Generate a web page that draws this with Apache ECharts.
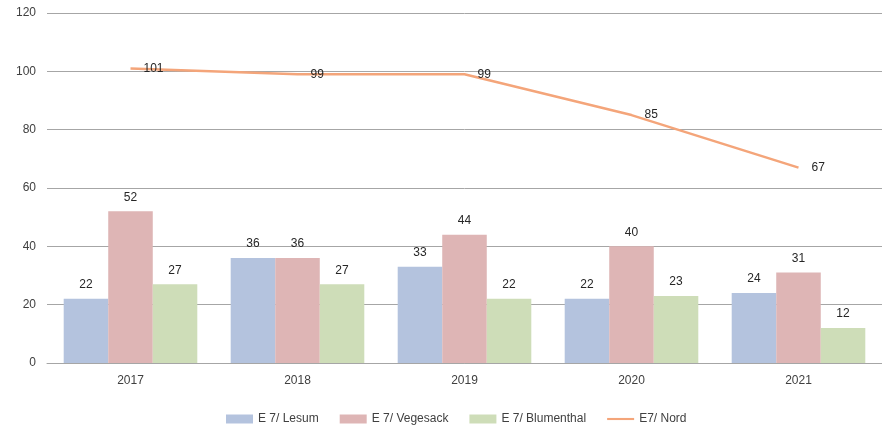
<!DOCTYPE html>
<html><head><meta charset="utf-8">
<script src="https://cdn.jsdelivr.net/npm/echarts@6/dist/echarts.min.js"></script>
<style>html,body{margin:0;padding:0;background:#fff}#c{width:882px;height:427px}</style>
</head><body><div id="c"></div>
<script>
const categories = ['2017','2018','2019','2020','2021'];
const lesum = [22,36,33,22,24];
const vegesack = [52,36,44,40,31];
const blumenthal = [27,27,22,23,12];
const nord = [101,99,99,85,67];
const seriesNames = ['E 7/ Lesum','E 7/ Vegesack','E 7/ Blumenthal','E7/ Nord'];

const font = 'Liberation Sans, Arial, sans-serif';
const lbl = {show:true, position:'top', color:'#262626', fontFamily:font, fontSize:12, distance:8};
const chart = echarts.init(document.getElementById('c'));
chart.setOption({
  animation:false,
  grid:{left:47,right:0,top:13,bottom:64,containLabel:false},
  legend:{bottom:-3,left:221,itemWidth:27,itemHeight:9,itemGap:21,
    textStyle:{fontFamily:font,fontSize:12,color:'#404040'},
    data:[{name:seriesNames[0],icon:'rect'},{name:seriesNames[1],icon:'rect'},{name:seriesNames[2],icon:'rect'},
      {name:seriesNames[3],icon:'path://M0,0H28V2.2H0Z',itemStyle:{color:'#F4A57A',opacity:1}}]},
  xAxis:{type:'category',data:categories,
    axisLine:{lineStyle:{color:'#A6A6A6'}},axisTick:{show:false},
    axisLabel:{color:'#404040',fontFamily:font,fontSize:12,margin:12}},
  yAxis:{type:'value',min:0,max:120,interval:20,
    axisLabel:{color:'#404040',fontFamily:font,fontSize:12,margin:11},
    splitLine:{lineStyle:{color:'#A6A6A6',width:1}}},
  series:[
    {name:seriesNames[0],type:'bar',data:lesum,barGap:'0%',barCategoryGap:'20%',itemStyle:{color:'#B4C3DE'},label:lbl},
    {name:seriesNames[1],type:'bar',data:vegesack,barGap:'0%',barCategoryGap:'20%',itemStyle:{color:'#DEB5B5'},label:lbl},
    {name:seriesNames[2],type:'bar',data:blumenthal,barGap:'0%',barCategoryGap:'20%',itemStyle:{color:'#CEDDB8'},label:lbl},
    {name:seriesNames[3],type:'line',data:nord,symbol:'circle',symbolSize:2,showSymbol:true,
      lineStyle:{color:'#F4A57A',width:2.5},itemStyle:{color:'rgba(244,165,122,0)'},
      label:{show:true,position:'right',distance:12,color:'#262626',fontFamily:font,fontSize:12}}
  ]
});
</script></body></html>
